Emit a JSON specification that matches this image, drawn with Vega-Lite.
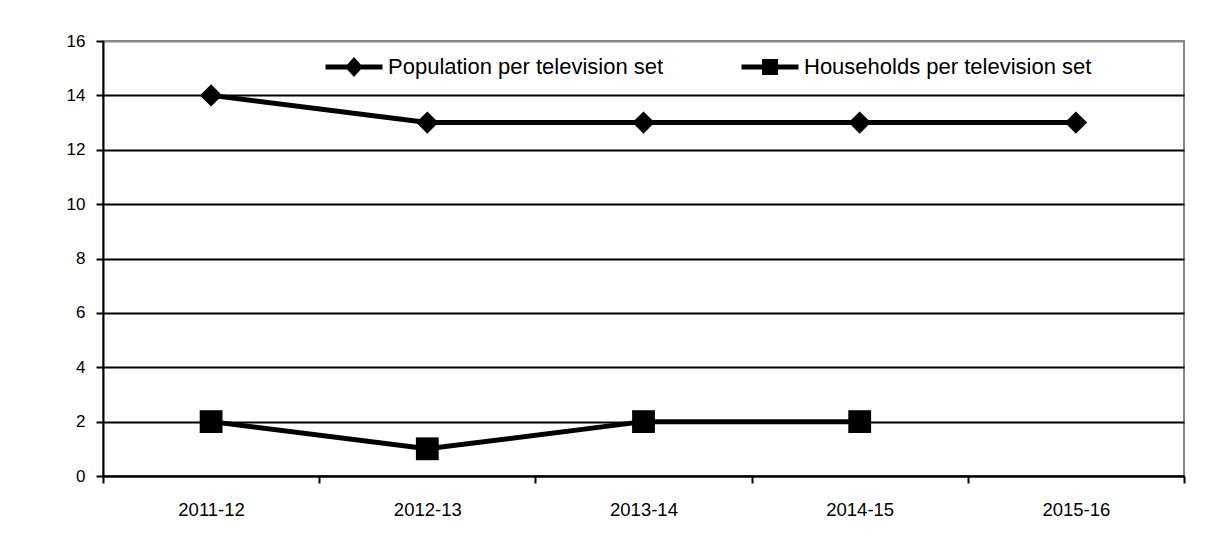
{
  "$schema": "https://vega.github.io/schema/vega-lite/v6.json",
  "autosize": "none",
  "width": 1081,
  "height": 435,
  "padding": {"left": 103, "top": 41, "right": 31, "bottom": 62},
  "background": "white",
  "config": {
    "view": {"stroke": "#888888", "strokeWidth": 2},
    "font": "Liberation Sans"
  },
  "data": {
    "values": [
      {"year": "2011-12", "series": "Population per television set", "value": 14},
      {"year": "2012-13", "series": "Population per television set", "value": 13},
      {"year": "2013-14", "series": "Population per television set", "value": 13},
      {"year": "2014-15", "series": "Population per television set", "value": 13},
      {"year": "2015-16", "series": "Population per television set", "value": 13},
      {"year": "2011-12", "series": "Households per television set", "value": 2},
      {"year": "2012-13", "series": "Households per television set", "value": 1},
      {"year": "2013-14", "series": "Households per television set", "value": 2},
      {"year": "2014-15", "series": "Households per television set", "value": 2}
    ]
  },
  "encoding": {
    "x": {
      "field": "year",
      "type": "nominal",
      "sort": null,
      "scale": {"type": "band", "paddingInner": 0, "paddingOuter": 0},
      "axis": {
        "title": null,
        "labelAngle": 0,
        "tickBand": "extent",
        "domainColor": "black",
        "domainWidth": 2,
        "tickColor": "black",
        "tickWidth": 2,
        "tickSize": 7,
        "labelPadding": 17,
        "labelFont": "Liberation Sans",
        "labelFontSize": 18.5,
        "labelColor": "black",
        "grid": false
      }
    },
    "y": {
      "field": "value",
      "type": "quantitative",
      "scale": {"domain": [0, 16], "nice": false},
      "axis": {
        "title": null,
        "values": [0, 2, 4, 6, 8, 10, 12, 14, 16],
        "domainColor": "black",
        "domainWidth": 2,
        "tickColor": "black",
        "tickWidth": 2,
        "tickSize": 7,
        "labelPadding": 11,
        "labelFont": "Liberation Sans",
        "labelFontSize": 17,
        "labelColor": "black",
        "grid": true,
        "gridColor": {"condition": {"test": "datum.value == 16", "value": "#888888"}, "value": "black"},
        "gridWidth": 2,
        "gridOpacity": 1
      }
    }
  },
  "layer": [
    {
      "mark": {"type": "line", "color": "black", "strokeWidth": 5},
      "encoding": {"detail": {"field": "series"}}
    },
    {
      "mark": {"type": "point", "filled": true, "color": "black", "opacity": 0, "size": 400},
      "encoding": {
        "shape": {
          "field": "series",
          "type": "nominal",
          "scale": {
            "domain": ["Population per television set", "Households per television set"],
            "range": [
              "M-2.85,-0.25L2.85,-0.25L2.85,0.25L-2.85,0.25ZM0,-1L0.9,0L0,1L-0.9,0Z",
              "M-2.85,-0.25L2.85,-0.25L2.85,0.25L-2.85,0.25ZM-0.8,-0.8L0.8,-0.8L0.8,0.8L-0.8,0.8Z"
            ]
          },
          "legend": {
            "title": null,
            "orient": "none",
            "direction": "horizontal",
            "legendX": 240,
            "legendY": 15,
            "padding": 0,
            "symbolSize": 400,
            "symbolFillColor": "black",
            "symbolStrokeColor": "black",
            "symbolStrokeWidth": 0,
            "symbolOpacity": 1,
            "labelFont": "Liberation Sans",
            "labelFontSize": 22,
            "labelColor": "black",
            "labelOffset": 23,
            "labelLimit": 400,
            "columnPadding": 77,
            "encode": {
              "symbols": {
                "update": {
                  "opacity": {"value": 1},
                  "fill": {"value": "black"},
                  "fillOpacity": {"value": 1}
                }
              }
            }
          }
        }
      }
    },
    {
      "transform": [{"filter": "datum.series == 'Population per television set'"}],
      "mark": {"type": "point", "filled": true, "color": "black", "opacity": 1, "size": 500, "shape": "diamond"}
    },
    {
      "transform": [{"filter": "datum.series == 'Households per television set'"}],
      "mark": {"type": "point", "filled": true, "color": "black", "opacity": 1, "size": 520, "shape": "square"}
    }
  ]
}
